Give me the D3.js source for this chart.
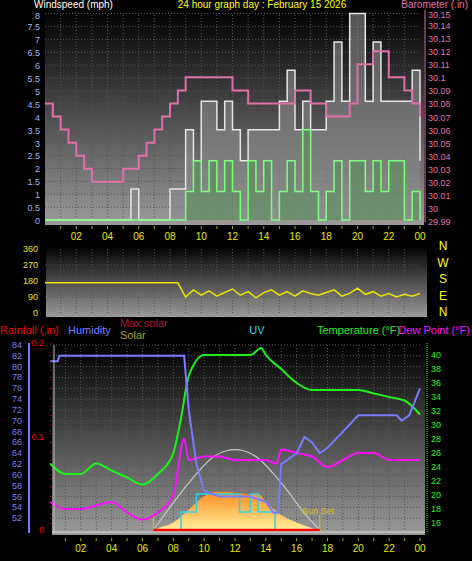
<!DOCTYPE html>
<html><head><meta charset="utf-8">
<script src="https://cdn.jsdelivr.net/npm/d3@7"></script>
<style>body{margin:0;background:#000}text{font-family:"Liberation Sans",Arial,sans-serif}</style>
</head><body><svg id="c" width="472" height="561"></svg>
<script>
const hoursTicks = [2, 4, 6, 8, 10, 12, 14, 16, 18, 20, 22, 24]
const tickLabel = h => h === 24 ? '00' : String(h).padStart(2, '0')

// half-hour samples 0..24
const halfHours = d3.range(0, 24.01, 0.5)
const windGust = [0,0,0,0,0,0,0,0,0,0,0,1.2,0,0,0,0,1.2,1.2,3.5,2.3,4.6,4.6,3.5,4.6,3.5,2.3,3.5,3.5,3.5,3.5,4.6,5.8,3.5,4.6,3.5,3.5,4.6,6.9,4.6,8,8,4.6,6.9,4.6,4.6,4.6,4.6,5.8,2.3]
const windAvg = [0,0,0,0,0,0,0,0,0,0,0,0,0,0,0,0,0,0,1.1,2.3,1.1,2.3,1.1,2.3,1.1,0,2.3,1.1,2.3,0,1.1,2.3,1.1,3.5,1.1,0,1.1,2.3,0,2.3,2.3,1.1,2.3,1.1,2.3,2.3,0,1.1,0]
const baroTimes = [0,0.5,1,1.5,2,2.5,3,4,5,5.5,6,6.5,7,7.5,8,8.5,9,10,11,12,13,14,15,16,17,18,19,19.5,20,21,22,23,23.5,24]
const baroValues = [30.08,30.07,30.06,30.05,30.04,30.03,30.02,30.02,30.03,30.03,30.04,30.05,30.06,30.07,30.08,30.09,30.1,30.1,30.1,30.09,30.08,30.08,30.08,30.09,30.08,30.07,30.07,30.08,30.11,30.12,30.1,30.09,30.08,30.07]
const windDir = [170,170,170,170,170,170,170,170,170,170,170,170,170,170,170,170,170,170,90,130,100,125,95,115,135,100,120,85,115,130,100,120,95,125,110,100,115,130,95,110,140,105,120,95,110,90,105,95,110]
const humTimes = [0,0.5,0.6,8.7,9,9.5,10,11,12,13,14,14.5,14.8,15,16,16.5,17,17.5,18,19,20,22.5,22.8,23.3,24]
const humValues = [81,81,82,82,72,62,57,56,56,56,55,53,53,62,64,67,66,64,65,68,71,71,70,71,76]
const tempTimes = [0,1,2,3,4,5,6,7,8,8.5,9,10,11,12,13,13.7,14,15,16,17,18,19,20,21,22,23,24]
const tempValues = [24.5,23,23,24.5,23.5,22.5,21.5,23,26,31,37,40,40,40,40,41,40,38,36,35,35,35,35,34.5,34,33.5,31.5]
const dewTimes = [0,1,2,3,4,5,6,7,8,8.7,9,10,11,12,13,14,14.7,15,16,17,18,19,20,21,22,23,24]
const dewValues = [19,18,18,18.5,19,17.5,16.5,17.5,20,28,25,25.5,25.5,25,25,25,24.5,26.5,26,25.5,24,25,26,26,25,25,25]
const solarTimes = [6.7,7,8,9,10,10.5,11,12,13,13.5,14,15,16,17,17.5]
const solarValues = [0,10,40,110,180,200,205,200,190,195,150,80,40,10,0]
const maxSolarTimes = [6.7,7.5,8.5,9.5,10.5,11.5,12,12.5,13.5,14.5,15.5,16.5,17.5]
const maxSolarValues = [0,90,200,300,385,425,430,425,385,300,200,90,0]
const uvTimes = [6.7,8.5,9.5,12.3,13,13.5,14.6,17.5]
const uvValues = [0,1,2,1,2,1,0,0]
const sunrise = 6.7, sunset = 17.5

const svg = d3.select('#c')
const defs = svg.append('defs')
const grad = defs.append('linearGradient').attr('id', 'bg').attr('x1', 0).attr('y1', 0).attr('x2', 0).attr('y2', 1)
grad.append('stop').attr('offset', 0).attr('stop-color', '#000')
grad.append('stop').attr('offset', 1).attr('stop-color', '#9a9a9a')

function panel(x0, x1, y0, y1) {
  svg.append('rect').attr('x', x0).attr('y', y0).attr('width', x1 - x0).attr('height', y1 - y0).attr('fill', 'url(#bg)')
}
function grid(x, y, xs, ys) {
  const [x0, x1] = x.range(), [y0, y1] = y.range()
  xs.forEach(v => svg.append('line').attr('x1', x(v)).attr('x2', x(v)).attr('y1', y0).attr('y2', y1).attr('stroke', '#555').attr('stroke-dasharray', '1,2'))
  ys.forEach(v => svg.append('line').attr('x1', x0).attr('x2', x1).attr('y1', y(v)).attr('y2', y(v)).attr('stroke', '#555').attr('stroke-dasharray', '1,2'))
}
function label(x, y, t, color, anchor = 'start', size = 11) {
  svg.append('text').attr('x', x).attr('y', y).attr('fill', color).attr('font-size', size).attr('text-anchor', anchor).text(t)
}
function xAxis(x, y) {
  hoursTicks.forEach(h => label(x(h), y, tickLabel(h), '#e8e800', 'middle', 10))
  d3.range(1, 25).forEach(h => svg.append('line').attr('x1', x(h)).attr('x2', x(h)).attr('y1', y - 14).attr('y2', y - 11).attr('stroke', '#aa0'))
}

// ---- panel 1: wind + barometer
const x1s = d3.scaleLinear().domain([0, 24]).range([45, 420])
const yWind = d3.scaleLinear().domain([0, 8]).range([220, 13.5])
const yBaro = d3.scaleLinear().domain([29.99, 30.15]).range([221, 12])
panel(45, 424, 8, 225)
grid(x1s, yWind, d3.range(1, 24), d3.range(0.5, 8.1, 0.5))
const windArea = d3.area().x((d, i) => x1s(halfHours[i])).y0(yWind(0)).y1(d => yWind(d)).curve(d3.curveStepAfter)
const windLine = d3.line().x((d, i) => x1s(halfHours[i])).y(d => yWind(d)).curve(d3.curveStepAfter)
svg.append('path').attr('d', windArea(windGust)).attr('fill', '#8a8a8a').attr('opacity', 0.6)
svg.append('path').attr('d', windLine(windGust)).attr('fill', 'none').attr('stroke', '#e6e6e6').attr('stroke-width', 1.5)
svg.append('path').attr('d', windArea(windAvg)).attr('fill', '#5c8f5c').attr('opacity', 0.6)
svg.append('path').attr('d', windLine(windAvg)).attr('fill', 'none').attr('stroke', '#7dff7d').attr('stroke-width', 1.5)
svg.append('path').attr('d', d3.line().x((d, i) => x1s(baroTimes[i])).y(d => yBaro(d)).curve(d3.curveStepAfter)(baroValues))
  .attr('fill', 'none').attr('stroke', '#e070a8').attr('stroke-width', 2)
d3.range(0, 8.1, 0.5).forEach(v => label(40, yWind(v) + 4 + (v === 8 ? 1 : 0), v, '#9bb4ff', 'end', 9))
d3.range(29.99, 30.155, 0.01).forEach(v => label(428, yBaro(v) + 4 + (v > 30.145 ? 2 : 0), (+v.toFixed(2)).toString(), '#e070a8', 'start', 9))
svg.append('line').attr('x1', 425).attr('x2', 425).attr('y1', 10).attr('y2', 222).attr('stroke', '#e070a8')
xAxis(x1s, 240)
label(34, 8, 'Windspeed (mph)', '#fff', 'start', 10)
label(262, 8, '24 hour graph day : February 15 2026', '#ffff00', 'middle', 10)
label(468, 8, 'Barometer (.in)', '#e070a8', 'end', 10)

// ---- panel 2: wind direction
const yDir = d3.scaleLinear().domain([0, 360]).range([313, 249])
panel(46, 427, 246, 317)
grid(x1s, yDir, d3.range(1, 24), [90, 180, 270])
svg.append('path').attr('d', d3.line().x((d, i) => x1s(halfHours[i])).y(d => yDir(d)).curve(d3.curveLinear)(windDir))
  .attr('fill', 'none').attr('stroke', '#e6e600').attr('stroke-width', 1.5)
;[0, 90, 180, 270, 360].forEach(v => label(38, yDir(v) + 3, v, '#e6e600', 'end', 9))
;['N', 'W', 'S', 'E', 'N'].forEach((t, i) => label(443, 250 + i * 16.5, t, '#ffff00', 'middle', 12))

// ---- panel 3
const x3 = d3.scaleLinear().domain([0, 24]).range([50, 420])
const yHum = d3.scaleLinear().domain([50, 84]).range([529, 345])
const yRain = d3.scaleLinear().domain([0, 0.2]).range([530, 343])
const yTemp = d3.scaleLinear().domain([15, 40]).range([530, 355])
const ySolar = d3.scaleLinear().domain([0, 1000]).range([530, 343])
const yUV = d3.scaleLinear().domain([0, 1]).range([530, 512])
panel(52, 425, 343, 535)
grid(x3, yHum, d3.range(1, 24), d3.range(52, 85, 2))
const sg = defs.append('linearGradient').attr('id', 'sol').attr('x1', 0).attr('y1', 0).attr('x2', 0).attr('y2', 1)
sg.append('stop').attr('offset', 0).attr('stop-color', '#ff8a1e')
sg.append('stop').attr('offset', 1).attr('stop-color', '#fff09a')
svg.append('path').attr('d', d3.area().x((d, i) => x3(solarTimes[i])).y0(ySolar(0)).y1(d => ySolar(d)).curve(d3.curveMonotoneX)(solarValues)).attr('fill', 'url(#sol)')
svg.append('path').attr('d', d3.line().x((d, i) => x3(maxSolarTimes[i])).y(d => ySolar(d)).curve(d3.curveMonotoneX)(maxSolarValues))
  .attr('fill', 'none').attr('stroke', '#c8c8c8').attr('stroke-width', 1.2)
svg.append('path').attr('d', d3.line().x((d, i) => x3(uvTimes[i])).y(d => yUV(d)).curve(d3.curveStepAfter)(uvValues))
  .attr('fill', 'none').attr('stroke', '#2ad4e0').attr('stroke-width', 1.5)
;[sunrise, sunset].forEach(t => svg.append('line').attr('x1', x3(t)).attr('x2', x3(t)).attr('y1', 515).attr('y2', 531).attr('stroke', '#d8c020'))
label(318, 514, 'Sun Set', '#d8c020', 'middle', 9)
svg.append('line').attr('x1', x3(sunrise)).attr('x2', x3(sunset)).attr('y1', 530).attr('y2', 530).attr('stroke', '#ff0000').attr('stroke-width', 2.5)
svg.append('line').attr('x1', 52).attr('x2', 425).attr('y1', 532).attr('y2', 532).attr('stroke', '#ddd').attr('stroke-width', 1)
svg.append('path').attr('d', d3.line().x((d, i) => x3(dewTimes[i])).y(d => yTemp(d)).curve(d3.curveMonotoneX)(dewValues))
  .attr('fill', 'none').attr('stroke', '#ff10ff').attr('stroke-width', 2)
svg.append('path').attr('d', d3.line().x((d, i) => x3(tempTimes[i])).y(d => yTemp(d)).curve(d3.curveMonotoneX)(tempValues))
  .attr('fill', 'none').attr('stroke', '#1ef01e').attr('stroke-width', 2)
svg.append('path').attr('d', d3.line().x((d, i) => x3(humTimes[i])).y(d => yHum(d)).curve(d3.curveLinear)(humValues))
  .attr('fill', 'none').attr('stroke', '#7b7bff').attr('stroke-width', 2)
svg.append('line').attr('x1', 54).attr('x2', 54).attr('y1', 345).attr('y2', 532).attr('stroke', '#bbb')
// axes
svg.append('line').attr('x1', 29).attr('x2', 29).attr('y1', 343).attr('y2', 533).attr('stroke', '#7b7bff').attr('stroke-width', 2)
d3.range(52, 85, 2).forEach(v => label(22, yHum(v) + 3, v, '#7b7bff', 'end', 9))
;[0, 0.1, 0.2].forEach(v => label(44, yRain(v) + 3, v, '#ff0000', 'end', 9))
svg.append('line').attr('x1', 51).attr('x2', 51).attr('y1', 343).attr('y2', 532).attr('stroke', '#ff0000').attr('stroke-dasharray', '1,8')
svg.append('line').attr('x1', 427).attr('x2', 427).attr('y1', 343).attr('y2', 533).attr('stroke', '#1ef01e').attr('stroke-dasharray', '1,1')
d3.range(16, 41, 2).forEach(v => label(431, yTemp(v) + 3, v, '#1ef01e', 'start', 9))
xAxis(x3, 552)
label(0, 334, 'Rainfall (.in)', '#ff0000')
label(68, 334, 'Humidity', '#7b7bff')
label(120, 327, 'Max solar', '#b01040')
label(120, 339, 'Solar', '#b0a020')
label(257, 334, 'UV', '#2ad4e0', 'middle')
label(317, 334, 'Temperature (°F)', '#1ef01e')
label(470, 334, 'Dew Point (°F)', '#ff10ff', 'end')
</script></body></html>
